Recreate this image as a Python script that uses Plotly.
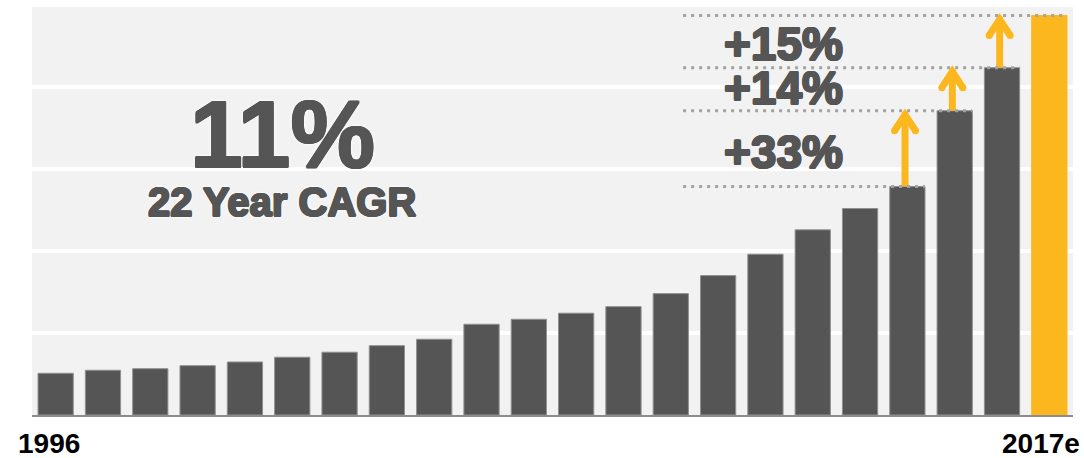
import plotly.graph_objects as go

years = ["1996", "1997", "1998", "1999", "2000", "2001", "2002", "2003", "2004", "2005", "2006",
         "2007", "2008", "2009", "2010", "2011", "2012", "2013", "2014", "2015", "2016", "2017e"]
values = [0.509, 0.546, 0.565, 0.602, 0.647, 0.705, 0.766, 0.846, 0.924, 1.107, 1.168,
          1.242, 1.322, 1.481, 1.701, 1.962, 2.259, 2.519, 2.788, 3.712, 4.237, 4.875]
growth_labels = ["+33%", "+14%", "+15%"]
growth_from = [18, 19, 20]   # index of bar where each step starts
cagr_value = "11%"
cagr_text = "22 Year CAGR"

DARK = "#555555"
ORANGE = "#FDB71E"
FONT = "Liberation Sans, Arial, sans-serif"
THICK = ("1px 0px 0 #555555, -1px 0px 0 #555555, 0px 1px 0 #555555, 0px -1px 0 #555555, "
         "0.7px 0.7px 0 #555555, -0.7px -0.7px 0 #555555, 0.7px -0.7px 0 #555555, -0.7px 0.7px 0 #555555")
GLOW = THICK + ", 0px 0px 4px #ffffff, 0px 0px 5px #ffffff, 0px 0px 3px #ffffff"

xs = list(range(len(years)))
colors = [DARK] * (len(years) - 1) + [ORANGE]
line_cols = ["#909090"] * (len(years) - 1) + [ORANGE]

fig = go.Figure()
fig.add_trace(go.Bar(
    x=xs, y=values, width=0.745,
    marker=dict(color=colors, line=dict(color=line_cols, width=1)),
    hoverinfo="skip", showlegend=False,
))

# dotted reference lines at the tops of the last four bars
for i in growth_from + [growth_from[-1] + 1]:
    fig.add_shape(type="line", xref="x", yref="y",
                  x0=13.26, x1=i + 0.37, y0=values[i], y1=values[i],
                  line=dict(color="#A3A3A3", width=3, dash="3px,5px"))

# orange arrows
px_per_unit = 81.9
for i in growth_from:
    x = i - 0.05
    y0 = values[i]
    tip = values[i + 1] - 4 / px_per_unit
    dx = 0.222
    dy = 16 / px_per_unit
    fig.add_trace(go.Scatter(
        x=[x, x], y=[y0, tip], mode="lines",
        line=dict(color=ORANGE, width=7), hoverinfo="skip", showlegend=False))
    fig.add_trace(go.Scatter(
        x=[x - dx, x, x + dx], y=[tip - dy, tip, tip - dy], mode="lines+markers",
        line=dict(color=ORANGE, width=7),
        marker=dict(color=ORANGE, size=7, line=dict(width=0)),
        hoverinfo="skip", showlegend=False))

# text annotations
fig.add_annotation(text=cagr_value, xref="paper", yref="paper", x=0.2406, y=0.688,
                   showarrow=False, xanchor="center", yanchor="middle",
                   font=dict(family=FONT, size=95, color=DARK, weight="bold", shadow=GLOW))
fig.add_annotation(text=cagr_text, xref="paper", yref="paper", x=0.2397, y=0.5232,
                   showarrow=False, xanchor="center", yanchor="middle",
                   font=dict(family=FONT, size=40, color=DARK, weight="bold", shadow=GLOW))
label_y = [0.6438, 0.8018, 0.9105]
for lab, yy in zip(growth_labels, label_y):
    fig.add_annotation(text=lab, xref="paper", yref="paper", x=0.7219, y=yy,
                       showarrow=False, xanchor="center", yanchor="middle",
                       font=dict(family=FONT, size=46, color=DARK, weight="bold", shadow=THICK))

# first / last year labels
for idx, shift in [(0, -6.3), (len(years) - 1, -8.2)]:
    fig.add_annotation(text=years[idx], xref="x", yref="paper", x=idx, y=-0.0704,
                       xshift=shift, showarrow=False, xanchor="center", yanchor="middle",
                       font=dict(family=FONT, size=28, color="#000000", weight="bold"))

fig.update_layout(
    width=1084, height=458,
    margin=dict(l=32, r=11, t=7, b=43),
    paper_bgcolor="#FFFFFF", plot_bgcolor="#F2F2F2",
    showlegend=False, bargap=0.25,
)
fig.update_xaxes(range=[-0.5, len(years) - 0.5], showgrid=False, zeroline=False,
                 showticklabels=False, ticks="", showline=True, linecolor="#8C8C8C", linewidth=2)
fig.update_yaxes(range=[0, 4.978], dtick=1, tick0=0, showgrid=True, gridcolor="#FFFFFF",
                 gridwidth=3.5, zeroline=False, showticklabels=False, ticks="", showline=False)

fig.write_html("out.html", config={"displayModeBar": False},
               post_script="document.body.style.margin='0';")
